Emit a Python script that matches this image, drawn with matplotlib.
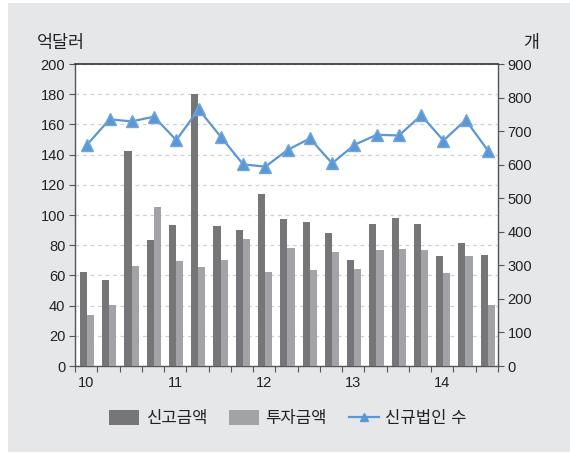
import matplotlib
matplotlib.use("Agg")
import matplotlib.pyplot as plt
from matplotlib.patches import Rectangle
from matplotlib.lines import Line2D
from matplotlib.patches import Patch
import numpy as np

plt.rcParams['font.family'] = ['Liberation Sans', 'Noto Sans CJK KR', 'DejaVu Sans']

# Quarterly data, 2010 Q1 - 2014 Q3
year_labels = ['10', '11', '12', '13', '14']
reported = [62, 57, 142.5, 83.5, 93.5, 180, 93, 90, 114, 97.5, 95.5, 88, 70.5, 94, 98, 94, 73, 81.5, 73.5]
invested = [34, 40.5, 66.5, 105.5, 69.5, 65.5, 70.5, 84, 62.5, 78, 63.5, 75.5, 64.5, 76.5, 77.5, 77, 61.5, 73, 40.5]
new_firms = [660, 735, 729, 743, 673, 765, 683, 601, 594, 644, 678, 604, 659, 689, 687, 747, 672, 733, 642]

dark = '#767679'
light = '#a2a3a6'
blue = '#5b97d2'
axis_col = '#555555'

fig = plt.figure(figsize=(5.70, 4.54), dpi=100)
fig.patch.set_facecolor('white')
fig.patches.append(Rectangle((8 / 570, 1 - 452 / 454), 562 / 570, 449 / 454,
                             transform=fig.transFigure, facecolor='#e6e7e9',
                             edgecolor='none', zorder=-10))

ax = fig.add_axes([75 / 570, 1 - 366 / 454, 423 / 570, 302 / 454])
ax.set_facecolor('white')

n = len(reported)
x = np.arange(n)
w = 0.32
ax.bar(x - w / 2 + 0.04, reported, width=w, color=dark, zorder=3)
ax.bar(x + w / 2 + 0.04, invested, width=w, color=light, zorder=3)

ax.set_xlim(-0.5, n - 0.5)
ax.set_ylim(0, 200)
ax.set_yticks(np.arange(0, 201, 20))
ax.yaxis.grid(True, color='#d0d0d0', linestyle=(0, (3, 3)), linewidth=0.9, zorder=0)
ax.set_axisbelow(True)

ax.set_xticks(np.arange(-0.5, n, 1))
ax.set_xticklabels([])
ax.set_xticks(np.arange(0, n, 4), minor=True)
ax.set_xticklabels(year_labels, minor=True)
ax.tick_params(axis='x', which='major', direction='out', length=4, color=axis_col)
ax.tick_params(axis='x', which='minor', length=0, pad=7, labelsize=10.5, labelcolor='#222222')
ax.tick_params(axis='y', direction='out', length=4, color=axis_col, labelsize=10.5,
               labelcolor='#222222', pad=3)

for side in ['left', 'right', 'bottom']:
    ax.spines[side].set_color(axis_col)
    ax.spines[side].set_linewidth(1.0)
ax.spines['top'].set_color('#333333')
ax.spines['top'].set_linewidth(1.2)

ax2 = ax.twinx()
ax2.plot(x + 0.05, new_firms, color=blue, marker='^', markersize=8, linewidth=1.6,
         markeredgecolor='#6fa6dc', zorder=5)
ax2.set_ylim(0, 900)
ax2.set_yticks(np.arange(0, 901, 100))
ax2.tick_params(axis='y', direction='out', length=4, color=axis_col, labelsize=10.5,
                labelcolor='#222222', pad=3)
for s in ax2.spines.values():
    s.set_visible(False)

fig.text(37 / 570, 1 - 43 / 454, '억달러', fontsize=12.5, color='#222222', va='center', ha='left')
fig.text(539 / 570, 1 - 43 / 454, '개', fontsize=12.5, color='#222222', va='center', ha='right')

handles = [Patch(facecolor=dark, edgecolor='none'),
           Patch(facecolor=light, edgecolor='none'),
           Line2D([0], [0], color=blue, marker='^', markersize=6, linewidth=1.6)]
fig.legend(handles, ['신고금액', '투자금액', '신규법인 수'], loc='center',
           bbox_to_anchor=(288 / 570, 1 - 418 / 454), ncol=3, frameon=False,
           fontsize=12, handlelength=1.8, handleheight=1.0, columnspacing=1.3,
           handletextpad=0.4, labelcolor='#222222')

fig.savefig('out.png', dpi=100, facecolor=fig.get_facecolor())
